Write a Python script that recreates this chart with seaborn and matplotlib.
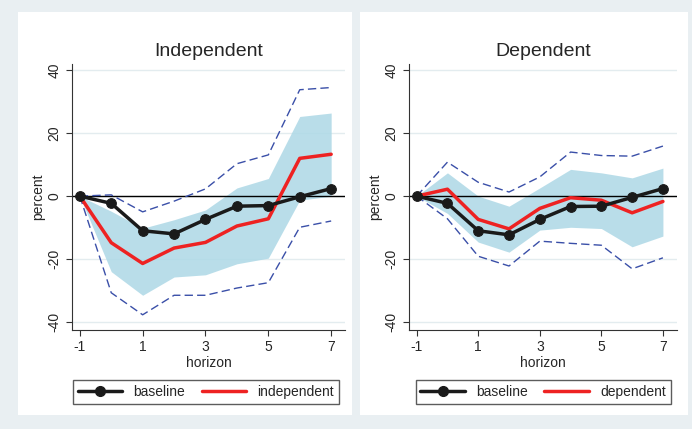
import matplotlib
matplotlib.use("Agg")
import matplotlib.pyplot as plt
import seaborn as sns
import pandas as pd
from matplotlib.patches import Rectangle
from matplotlib.lines import Line2D

horizon = [-1, 0, 1, 2, 3, 4, 5, 6, 7]
# Independent panel
ind_base = [0, -2.3, -11, -12, -7.4, -3.2, -3, -0.2, 2.4]
ind_resp = [0, -14.8, -21.4, -16.5, -14.7, -9.5, -7.2, 12, 13.3]
ind_band_hi = [0, -4.8, -10.2, -7.5, -4.4, 2.6, 5.6, 25.3, 26.4]
ind_band_lo = [0, -24, -31.5, -25.7, -25, -21.5, -19.7, -1.3, 0]
ind_dash_hi = [0, 0.4, -5, -1.6, 2.3, 10.3, 13.1, 33.8, 34.5]
ind_dash_lo = [0, -30.7, -37.7, -31.5, -31.5, -29.2, -27.5, -9.9, -7.9]
# Dependent panel
dep_base = [0, -2.3, -11, -12.3, -7.4, -3.3, -3.2, -0.4, 2.4]
dep_resp = [0, 2.2, -7.4, -10.4, -3.9, -0.5, -1.3, -5.3, -1.7]
dep_band_hi = [0, 7.4, 0, -3.2, 2.6, 8.5, 7.4, 5.8, 8.9]
dep_band_lo = [0, -5.5, -14.6, -17.8, -10.8, -9.9, -10.3, -16.1, -12.7]
dep_dash_hi = [0, 10.8, 4.4, 1.3, 6.1, 14, 12.9, 12.7, 15.9]
dep_dash_lo = [0, -7.2, -19.1, -22.2, -14.3, -15, -15.6, -23.1, -19.6]

sns.set_style("white")
plt.rcParams['font.family'] = ['Liberation Sans', 'DejaVu Sans']
plt.rcParams['axes.unicode_minus'] = False

bg = '#e9eff2'
fig = plt.figure(figsize=(6.92, 4.29), dpi=100, facecolor=bg)
for x0, x1 in [(18, 352), (360, 688)]:
    fig.patches.append(Rectangle((x0/692, 1-415/429), (x1-x0)/692, (415-12)/429,
                                 transform=fig.transFigure, facecolor='white', edgecolor='none', zorder=-10))

panels = [
    ("Independent", [0.104, 0.231, 0.395, 0.62], ind_base, ind_resp, ind_band_hi, ind_band_lo, ind_dash_hi, ind_dash_lo, "independent", 72, 340),
    ("Dependent", [0.591, 0.231, 0.387, 0.62], dep_base, dep_resp, dep_band_hi, dep_band_lo, dep_dash_hi, dep_dash_lo, "dependent", 414, 672),
]
for title, pos, base, resp, bhi, blo, dhi, dlo, lab, lx0, lx1 in panels:
    ax = fig.add_axes(pos)
    ax.set_zorder(5)
    ax.set_facecolor('white')
    ax.fill_between(horizon, blo, bhi, color='#add8e6', alpha=0.85, lw=0, zorder=1)
    ax.axhline(0, color='black', lw=1, zorder=2)
    sns.lineplot(x=horizon, y=dhi, ax=ax, color='#3a4fa8', lw=1, linestyle=(0, (6, 3)), zorder=3)
    sns.lineplot(x=horizon, y=dlo, ax=ax, color='#3a4fa8', lw=1, linestyle=(0, (6, 3)), zorder=3)
    sns.lineplot(x=horizon, y=resp, ax=ax, color='#ee2222', lw=2.5, zorder=4)
    sns.lineplot(x=horizon, y=base, ax=ax, color='#1a1a1a', lw=2.5, marker='o', markersize=7,
                 markeredgecolor='#1a1a1a', zorder=5)
    ax.set_xlim(-1.25, 7.45)
    ax.set_ylim(-42.5, 42)
    ax.set_xticks([-1, 1, 3, 5, 7])
    ax.set_yticks([-40, -20, 0, 20, 40])
    ax.set_yticklabels(['-40', '-20', '0', '20', '40'], rotation=90, va='center')
    ax.yaxis.grid(True, color='#e3ecef', lw=1)
    for s in ['top', 'right']:
        ax.spines[s].set_visible(False)
    for s in ['left', 'bottom']:
        ax.spines[s].set_color('#333333')
    ax.tick_params(axis='both', length=4, color='#333333', labelsize=10, bottom=True, left=True)
    ax.set_xlabel('horizon', fontsize=10, labelpad=1)
    ax.set_ylabel('percent', fontsize=10, labelpad=2)
    ax.set_title(title, fontsize=14, pad=6)
    handles = [Line2D([], [], color='#1a1a1a', lw=2.5, marker='o', markersize=7),
               Line2D([], [], color='#ee2222', lw=2.5)]
    leg = fig.legend(handles, ['baseline', lab], loc='center',
               bbox_to_anchor=((lx0+lx1)/2/692, 1-392/429), ncol=2, fontsize=10,
               frameon=True, fancybox=False, edgecolor='#333333', handlelength=3.2,
               columnspacing=1.2, borderpad=0.35)
    leg.set_zorder(6)

fig.savefig('out.png', dpi=100, facecolor=bg)
